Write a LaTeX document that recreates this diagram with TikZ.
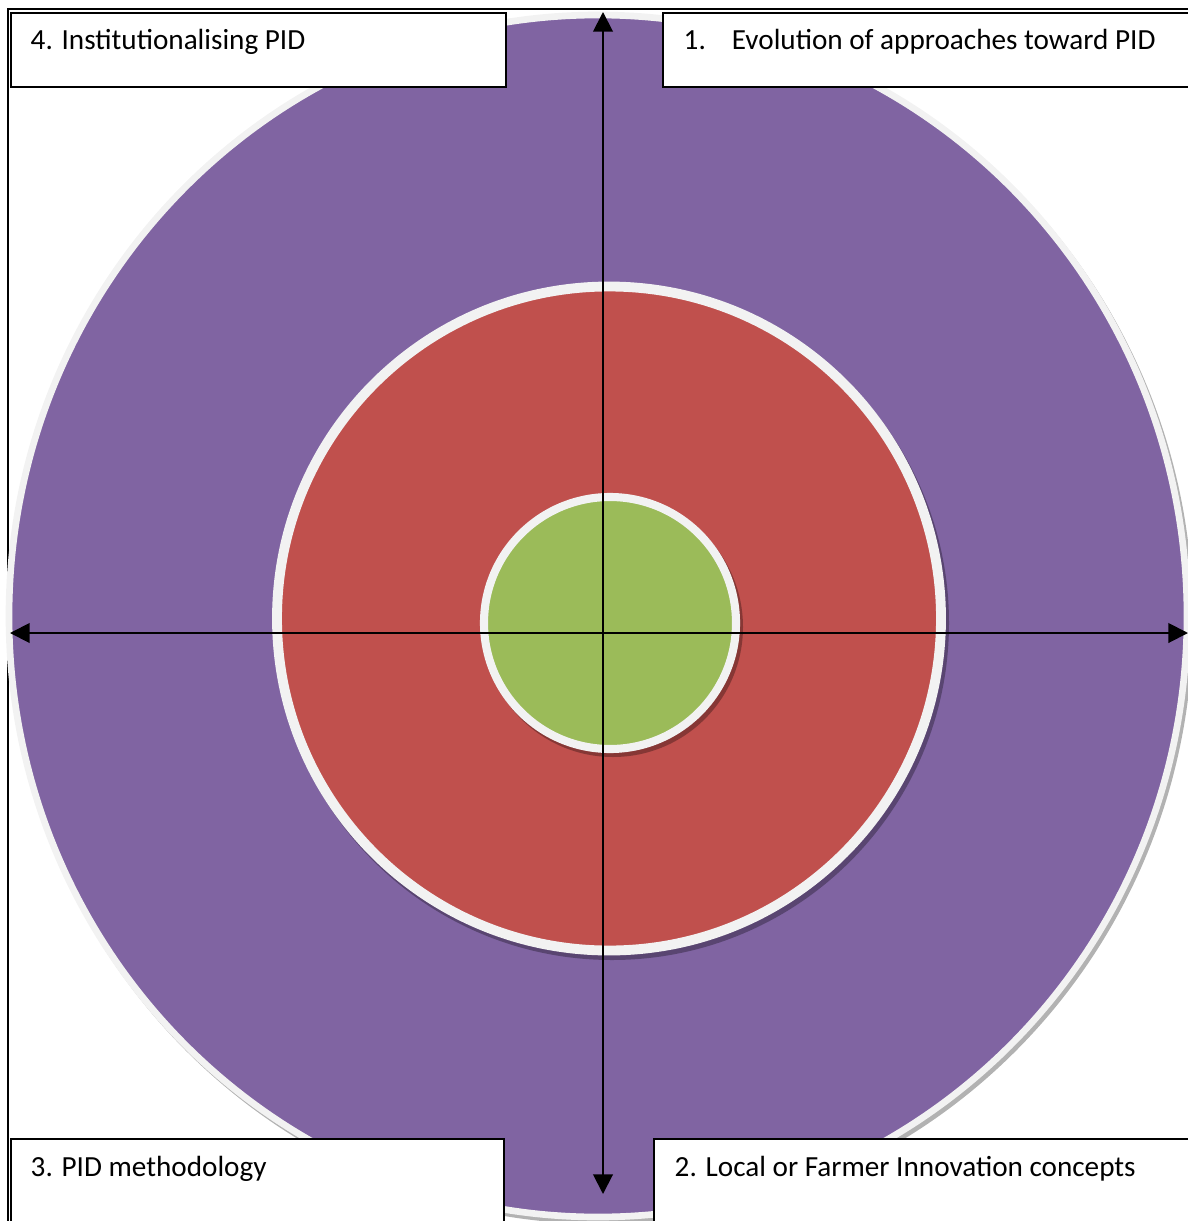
\documentclass[tikz,border=0pt]{standalone}
\usepackage{fontspec}
\setmainfont{Carlito}
\usetikzlibrary{arrows.meta}

\definecolor{ringpurple}{HTML}{8064A2}
\definecolor{ringred}{HTML}{C0504D}
\definecolor{ringgreen}{HTML}{9BBB59}
\definecolor{ringedge}{HTML}{F2F2F2}

\tikzset{
  ring/.style={draw=ringedge, line width=#1},
  ringshadow/.style={fill=black, opacity=0.3},
  quadbox/.style={draw=black, fill=white, line width=0.5pt, inner sep=0pt, anchor=north west},
  quadtext/.style={anchor=base west, inner sep=0pt, font=\fontsize{8.3}{10}\selectfont},
  axis/.style={line width=0.55pt, {Triangle[length=5.6pt,width=5.6pt]}-{Triangle[length=5.6pt,width=5.6pt]}}
}

\begin{document}
\begin{tikzpicture}[x=0.01cm, y=-0.01cm]
\useasboundingbox (0,0) rectangle (1188,1221);
\clip (0,0) rectangle (1188,1221);

% frame behind everything
\draw[line width=0.4pt] (8,9) rectangle (1200,1240);

% rings, outside in
\fill[ringshadow] (601,620) ellipse [x radius=592, y radius=604];
\filldraw[ring=1.9pt, fill=ringpurple] (598,616) ellipse [x radius=589, y radius=601];

\fill[ringshadow] (612,623) circle [radius=337];
\filldraw[ring=2.8pt, fill=ringred] (609,618.5) circle [radius=332];

\fill[ringshadow] (613,627) circle [radius=130];
\filldraw[ring=2.3pt, fill=ringgreen] (610,623) circle [radius=126];

% quadrant boxes
\node[quadbox, minimum width=4.95cm, minimum height=0.74cm] (box4) at (10,12) {};
\node[quadbox, minimum width=5.40cm, minimum height=0.74cm] (box1) at (662,12) {};
\node[quadbox, minimum width=4.93cm, minimum height=1.00cm] (box3) at (10,1138) {};
\node[quadbox, minimum width=5.50cm, minimum height=1.00cm] (box2) at (653,1138) {};

\node[quadtext] (lab4) at (30,50) {4. Institutionalising PID};
\node[quadtext] (lab1) at (683,50) {1.\hspace{7.4pt}Evolution of approaches toward PID};
\node[quadtext] (lab3) at (30,1176) {3. PID methodology};
\node[quadtext] (lab2) at (674,1176) {2. Local or Farmer Innovation concepts};

% axes
\coordinate (ntip) at (603,12);
\coordinate (stip) at (603,1194);
\coordinate (wtip) at (10,633);
\coordinate (etip) at (1188,633);
\draw[axis] (stip) -- (ntip);
\draw[axis] (wtip) -- (etip);
\end{tikzpicture}
\end{document}
